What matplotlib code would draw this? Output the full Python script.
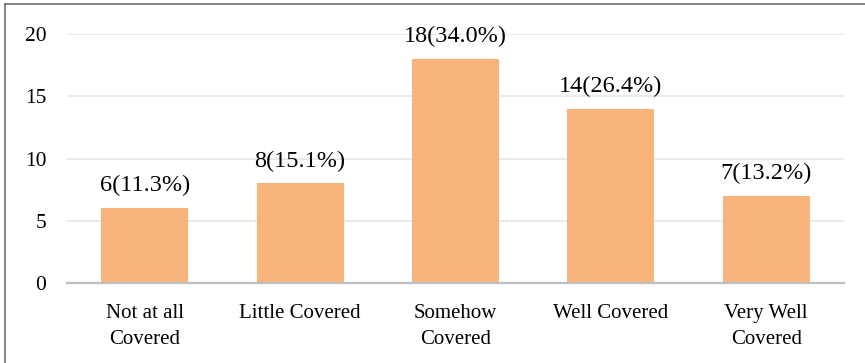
import matplotlib.pyplot as plt
from matplotlib.lines import Line2D

categories = ['Not at all\nCovered', 'Little Covered', 'Somehow\nCovered',
              'Well Covered', 'Very Well\nCovered']
counts = [6, 8, 18, 14, 7]
percents = [11.3, 15.1, 34.0, 26.4, 7 / 53 * 100]
yticks = [0, 5, 10, 15, 20]

plt.rcParams['font.family'] = ['Liberation Serif', 'DejaVu Serif']

fig = plt.figure(figsize=(8.65, 3.63), dpi=100)
ax = fig.add_axes([0.0775, 0.2204, 0.898, 0.6859])

x = range(len(categories))
bars = ax.bar(x, counts, width=0.56, color='#F8B47B', zorder=2)
for b, c, p in zip(bars, counts, percents):
    ax.text(b.get_x() + b.get_width() / 2, c + 0.95, '%d(%.1f%%)' % (c, p),
            ha='center', va='bottom', fontsize=17.5, color='black', clip_on=False)

ax.set_xlim(-0.5, len(categories) - 0.5)
ax.set_ylim(0, 20)
ax.set_yticks(yticks)
ax.set_xticks(list(x))
ax.set_xticklabels(categories, fontsize=15, linespacing=1.5)
ax.tick_params(axis='y', labelsize=15.5, length=0, pad=15)
ax.tick_params(axis='x', length=0, pad=15)
ax.yaxis.grid(True, color='#E6E6E6', linewidth=1.2, zorder=0)
for s in ['top', 'right', 'left']:
    ax.spines[s].set_visible(False)
ax.spines['bottom'].set_color('#BFBFBF')
ax.spines['bottom'].set_linewidth(1.6)
ax.spines['bottom'].set_zorder(3)

# outer frame (only top and left edges fall inside the image)
fig.add_artist(Line2D([5 / 865, 1], [1 - 4 / 363, 1 - 4 / 363],
                      color='#6E6E6E', linewidth=1.2, transform=fig.transFigure))
fig.add_artist(Line2D([5 / 865, 5 / 865], [0, 1 - 4 / 363],
                      color='#6E6E6E', linewidth=1.2, transform=fig.transFigure))

fig.savefig('out.png', dpi=100)
